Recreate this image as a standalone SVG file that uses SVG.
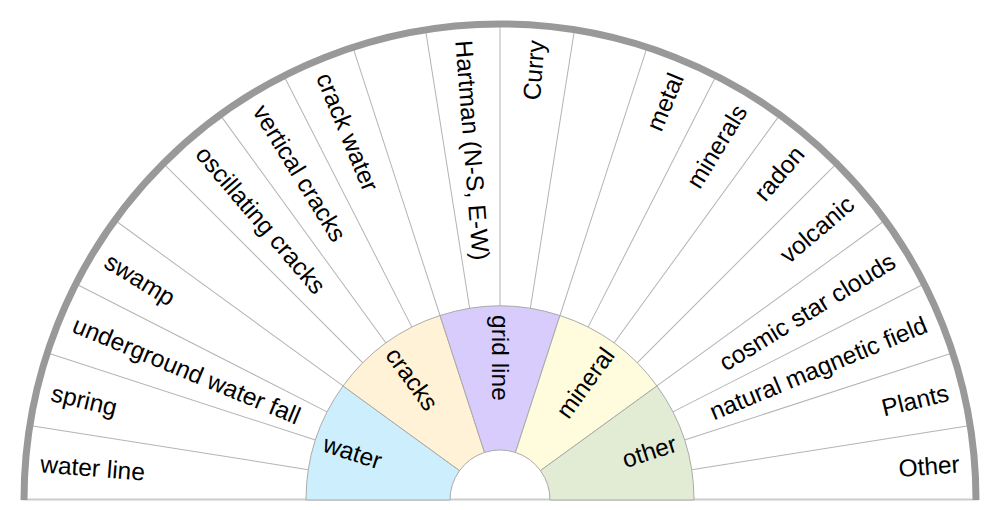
<svg xmlns="http://www.w3.org/2000/svg" width="1000" height="510" viewBox="0 0 1000 510">
<style>
.sec{stroke:#aaaaaa;stroke-width:1}
.rad{stroke:#b4b4b4;stroke-width:1}
text{font-family:"Liberation Sans",Arial,sans-serif;font-size:24.5px;fill:#000;dominant-baseline:central}
.s{text-anchor:start}
.e{text-anchor:end}
</style>
<rect width="1000" height="510" fill="#ffffff"/>
<g id="connectors">
<line class="rad" x1="694" y1="500" x2="973" y2="500" transform="rotate(-9 500 500)"/>
<line class="rad" x1="694" y1="500" x2="973" y2="500" transform="rotate(-18 500 500)"/>
<line class="rad" x1="694" y1="500" x2="973" y2="500" transform="rotate(-27 500 500)"/>
<line class="rad" x1="694" y1="500" x2="973" y2="500" transform="rotate(-36 500 500)"/>
<line class="rad" x1="694" y1="500" x2="973" y2="500" transform="rotate(-45 500 500)"/>
<line class="rad" x1="694" y1="500" x2="973" y2="500" transform="rotate(-54 500 500)"/>
<line class="rad" x1="694" y1="500" x2="973" y2="500" transform="rotate(-63 500 500)"/>
<line class="rad" x1="694" y1="500" x2="973" y2="500" transform="rotate(-72 500 500)"/>
<line class="rad" x1="694" y1="500" x2="973" y2="500" transform="rotate(-81 500 500)"/>
<line class="rad" x1="694" y1="500" x2="973" y2="500" transform="rotate(-90 500 500)"/>
<line class="rad" x1="694" y1="500" x2="973" y2="500" transform="rotate(-99 500 500)"/>
<line class="rad" x1="694" y1="500" x2="973" y2="500" transform="rotate(-108 500 500)"/>
<line class="rad" x1="694" y1="500" x2="973" y2="500" transform="rotate(-117 500 500)"/>
<line class="rad" x1="694" y1="500" x2="973" y2="500" transform="rotate(-126 500 500)"/>
<line class="rad" x1="694" y1="500" x2="973" y2="500" transform="rotate(-135 500 500)"/>
<line class="rad" x1="694" y1="500" x2="973" y2="500" transform="rotate(-144 500 500)"/>
<line class="rad" x1="694" y1="500" x2="973" y2="500" transform="rotate(-153 500 500)"/>
<line class="rad" x1="694" y1="500" x2="973" y2="500" transform="rotate(-162 500 500)"/>
<line class="rad" x1="694" y1="500" x2="973" y2="500" transform="rotate(-171 500 500)"/>
</g>
<g id="outer-ring">
<line x1="22" y1="499.5" x2="978" y2="499.5" stroke="#cccccc" stroke-width="2"/>
<path d="M 24 500 A 476 476 0 0 1 976 500" fill="none" stroke="#999999" stroke-width="7"/>
</g>
<g id="water">
<path class="sec" fill="#cdeffd" d="M 306 500 A 194 194 0 0 1 343.05 385.97 L 459.55 470.61 A 50 50 0 0 0 450 500 Z"/>
<text class="s" x="315" y="500" transform="rotate(18 500 500)">water</text>
</g>
<g id="cracks">
<path class="sec" fill="#fff2d6" d="M 343.05 385.97 A 194 194 0 0 1 440.05 315.49 L 484.55 452.45 A 50 50 0 0 0 459.55 470.61 Z"/>
<text class="s" x="315" y="500" transform="rotate(54 500 500)">cracks</text>
</g>
<g id="grid-line">
<path class="sec" fill="#d8ccfd" d="M 440.05 315.49 A 194 194 0 0 1 559.95 315.49 L 515.45 452.45 A 50 50 0 0 0 484.55 452.45 Z"/>
<text class="s" x="315" y="500" transform="rotate(90 500 500)">grid line</text>
</g>
<g id="mineral">
<path class="sec" fill="#fffbdd" d="M 559.95 315.49 A 194 194 0 0 1 656.95 385.97 L 540.45 470.61 A 50 50 0 0 0 515.45 452.45 Z"/>
<text class="e" x="685" y="500" transform="rotate(-54 500 500)">mineral</text>
</g>
<g id="other">
<path class="sec" fill="#e2ecd5" d="M 656.95 385.97 A 194 194 0 0 1 694 500 L 550 500 A 50 50 0 0 0 540.45 470.61 Z"/>
<text class="e" x="685" y="500" transform="rotate(-18 500 500)">other</text>
</g>
<g id="water-line"><text class="s" x="39" y="500" transform="rotate(4.5 500 500)">water line</text></g>
<g id="spring"><text class="s" x="39" y="500" transform="rotate(13.5 500 500)">spring</text></g>
<g id="underground-water-fall"><text class="s" x="39" y="500" transform="rotate(22.5 500 500)">underground water fall</text></g>
<g id="swamp"><text class="s" x="39" y="500" transform="rotate(31.5 500 500)">swamp</text></g>
<g id="oscillating-cracks"><text class="s" x="39" y="500" transform="rotate(49.5 500 500)">oscillating cracks</text></g>
<g id="vertical-cracks"><text class="s" x="39" y="500" transform="rotate(58.5 500 500)">vertical cracks</text></g>
<g id="crack-water"><text class="s" x="39" y="500" transform="rotate(67.5 500 500)">crack water</text></g>
<g id="hartman"><text class="s" x="39" y="500" transform="rotate(85.5 500 500)">Hartman (N-S, E-W)</text></g>
<g id="curry"><text class="e" x="961" y="500" transform="rotate(-85.5 500 500)">Curry</text></g>
<g id="metal"><text class="e" x="961" y="500" transform="rotate(-67.5 500 500)">metal</text></g>
<g id="minerals"><text class="e" x="961" y="500" transform="rotate(-58.5 500 500)">minerals</text></g>
<g id="radon"><text class="e" x="961" y="500" transform="rotate(-49.5 500 500)">radon</text></g>
<g id="volcanic"><text class="e" x="961" y="500" transform="rotate(-40.5 500 500)">volcanic</text></g>
<g id="cosmic-star-clouds"><text class="e" x="961" y="500" transform="rotate(-31.5 500 500)">cosmic star clouds</text></g>
<g id="natural-magnetic-field"><text class="e" x="961" y="500" transform="rotate(-22.5 500 500)">natural magnetic field</text></g>
<g id="plants"><text class="e" x="961" y="500" transform="rotate(-13.5 500 500)">Plants</text></g>
<g id="other-label"><text class="e" x="961" y="500" transform="rotate(-4.5 500 500)">Other</text></g>
</svg>
